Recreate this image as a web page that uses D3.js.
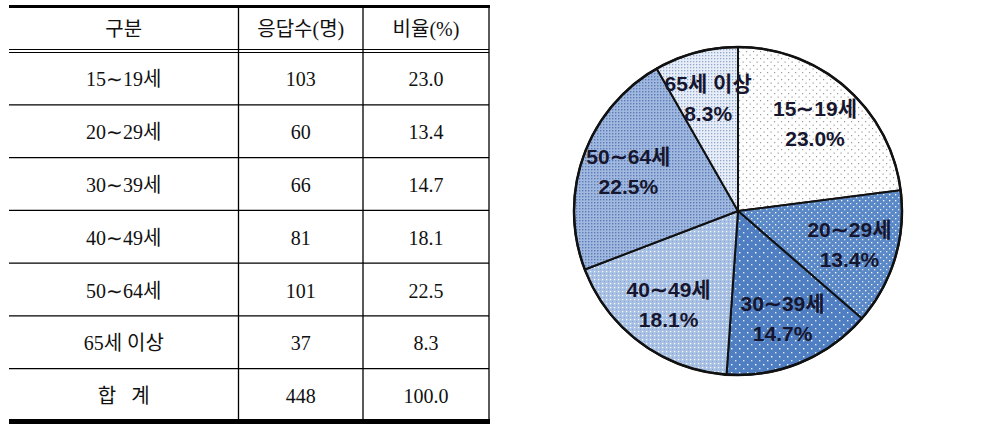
<!DOCTYPE html>
<html>
<head>
<meta charset="utf-8">
<script src="https://cdn.jsdelivr.net/npm/d3@7"></script>
<style>
  body { margin: 0; background: #fff; }
  svg { display: block; }
</style>
</head>
<body>
<svg id="chart" width="993" height="431"></svg>
<script>
const headers = ['구분', '응답수(명)', '비율(%)']
const groups = ['15∼19세', '20∼29세', '30∼39세', '40∼49세', '50∼64세', '65세 이상']
const counts = [103, 60, 66, 81, 101, 37]
const shares = [23.0, 13.4, 14.7, 18.1, 22.5, 8.3]
const totalLabel = '합   계'
const totalCount = 448
const totalShare = 100.0

const svg = d3.select('#chart')
svg.append('rect').attr('width', 993).attr('height', 431).attr('fill', '#fff')

/* ---------- table ---------- */
const colEdges = [9, 238.5, 363, 489]
const headTop = 7
const headBottom = 50
const rowKeys = groups.concat(['total'])
const rowY = d3.scaleBand().domain(rowKeys).range([52, 421.5])

const serif = '"Liberation Serif", "Noto Sans CJK KR", serif'
const tbl = svg.append('g').attr('font-family', serif).attr('font-size', 20).attr('fill', '#111')

const colMid = i => (colEdges[i] + colEdges[i + 1]) / 2

tbl.selectAll('text.head')
  .data(headers)
  .join('text')
  .attr('class', 'head')
  .attr('x', (d, i) => colMid(i))
  .attr('y', (headTop + headBottom) / 2)
  .attr('text-anchor', 'middle')
  .attr('dominant-baseline', 'central')
  .text(d => d)

const rows = groups.map((g, i) => [g, String(counts[i]), shares[i].toFixed(1)])
rows.push([totalLabel, String(totalCount), totalShare.toFixed(1)])

const rowG = tbl.selectAll('g.row')
  .data(rows)
  .join('g')
  .attr('class', 'row')
  .attr('transform', (d, i) => `translate(0,${rowY(rowKeys[i]) + rowY.bandwidth() / 2})`)

rowG.selectAll('text')
  .data(d => d)
  .join('text')
  .attr('x', (d, i) => colMid(i))
  .attr('y', 1)
  .attr('text-anchor', 'middle')
  .attr('dominant-baseline', 'central')
  .style('white-space', 'pre')
  .text(d => d)

const lines = svg.append('g').attr('stroke', '#000')
// row separators
rowKeys.slice(1).forEach(k => {
  lines.append('line')
    .attr('x1', colEdges[0]).attr('x2', colEdges[3])
    .attr('y1', rowY(k)).attr('y2', rowY(k))
    .attr('stroke-width', 1.3)
})
// double line under the header
;[49.5, 52.5].forEach(y => {
  lines.append('line')
    .attr('x1', colEdges[0]).attr('x2', colEdges[3])
    .attr('y1', y).attr('y2', y)
    .attr('stroke-width', 1)
})
// column lines
colEdges.slice(1).forEach(x => {
  lines.append('line')
    .attr('x1', x).attr('x2', x)
    .attr('y1', headTop).attr('y2', 420)
    .attr('stroke-width', 1.3)
})
// thick top and bottom rules
lines.append('line')
  .attr('x1', colEdges[0]).attr('x2', colEdges[3] + 1)
  .attr('y1', 6.5).attr('y2', 6.5).attr('stroke-width', 3)
lines.append('line')
  .attr('x1', colEdges[0]).attr('x2', colEdges[3] + 1)
  .attr('y1', 421.5).attr('y2', 421.5).attr('stroke-width', 5)

/* ---------- pie ---------- */
const defs = svg.append('defs')
function dotPattern (id, size, bg, dots) {
  const p = defs.append('pattern')
    .attr('id', id)
    .attr('patternUnits', 'userSpaceOnUse')
    .attr('width', size).attr('height', size)
  p.append('rect').attr('width', size).attr('height', size).attr('fill', bg)
  dots.forEach(d => {
    p.append('rect')
      .attr('x', d[0]).attr('y', d[1])
      .attr('width', d[2]).attr('height', d[2])
      .attr('fill', d[3])
  })
}
dotPattern('p0', 7, '#ffffff', [[1, 1, 1.2, '#9a9a9a'], [4.5, 4.5, 1.2, '#9a9a9a']])
dotPattern('p1', 6, '#5b88c6', [[1, 1, 1.3, '#ffffff'], [4, 4, 1.3, '#dfe8f5']])
dotPattern('p2', 8, '#4f7ec2', [[1, 1, 1.4, '#ffffff'], [5, 5, 1.4, '#dfe8f5']])
dotPattern('p3', 4, '#a8c0e3', [[0, 0, 1.2, '#ffffff'], [2, 2, 1, '#8aa5d2']])
dotPattern('p4', 3, '#a2b9df', [[0, 0, 1.4, '#5a7cb8']])
dotPattern('p5', 3, '#e8eef8', [[0, 0, 1.3, '#8fa6cd']])

const cx = 738
const cy = 211
const R = 164

const pie = d3.pie().sort(null).value(d => d)
const arcs = pie(counts)
const arc = d3.arc().innerRadius(0).outerRadius(R)
const labelArc = d3.arc().innerRadius(R * 0.71).outerRadius(R * 0.71)

const pg = svg.append('g').attr('transform', `translate(${cx},${cy})`)

pg.selectAll('path.slice')
  .data(arcs)
  .join('path')
  .attr('class', 'slice')
  .attr('d', arc)
  .attr('fill', (d, i) => `url(#p${i})`)
  .attr('stroke', '#111')
  .attr('stroke-width', 2)
  .attr('stroke-linejoin', 'round')

pg.append('circle')
  .attr('r', R)
  .attr('fill', 'none')
  .attr('stroke', '#111')
  .attr('stroke-width', 2.5)

const lab = pg.selectAll('g.lab')
  .data(arcs)
  .join('g')
  .attr('class', 'lab')
  .attr('transform', d => `translate(${labelArc.centroid(d)})`)
  .attr('font-family', '"Liberation Sans", "Noto Sans CJK KR", sans-serif')
  .attr('font-weight', 'bold')
  .attr('font-size', 21)
  .attr('fill', '#16162e')
  .attr('text-anchor', 'middle')

lab.append('text')
  .attr('y', -15)
  .attr('dominant-baseline', 'central')
  .text((d, i) => groups[i])
lab.append('text')
  .attr('y', 15)
  .attr('dominant-baseline', 'central')
  .text((d, i) => shares[i].toFixed(1) + '%')
</script>
</body>
</html>
